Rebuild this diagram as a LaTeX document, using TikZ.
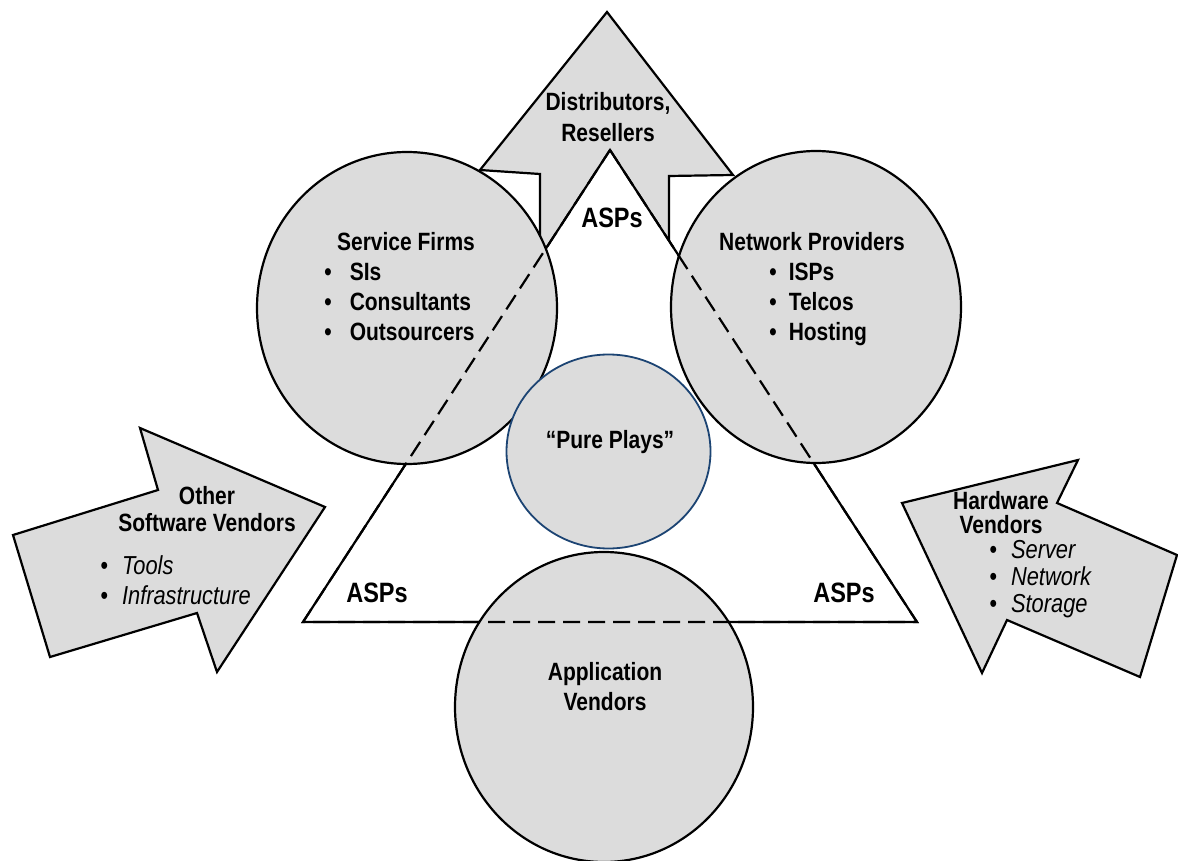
\documentclass[tikz,border=0pt]{standalone}
\usepackage{fontspec}
\setmainfont{Liberation Sans}[FakeStretch=0.84]
\usepackage{xcolor}
\usepackage{tikz}
\usetikzlibrary{positioning,calc}
\definecolor{fillgray}{RGB}{220,220,220}
\definecolor{navyline}{RGB}{28,68,115}

\tikzset{
  grayshape/.style={draw=black, line width=1.1pt, fill=fillgray, line join=miter},
  whiteshape/.style={draw=black, line width=1.1pt, fill=white},
  hidden edge/.style={draw=black, line width=1.1pt, dash pattern=on 8.5pt off 4pt},
  hdr/.style={font=\bfseries\fontsize{12.5}{#1}\selectfont, align=center, inner sep=0pt},
  hdr/.default=15,
  bulletlist/.style={font=\bfseries\fontsize{12.5}{15}\selectfont, align=left, inner sep=0pt, anchor=north west},
  itlist/.style={font=\itshape\fontsize{13}{#1}\selectfont, align=left, inner sep=0pt, anchor=north west},
  asplabel/.style={font=\bfseries\fontsize{14}{17}\selectfont, inner sep=0pt}
}

\begin{document}
\begin{tikzpicture}[x=0.5pt, y=-0.5pt]
    \useasboundingbox (0,0) rectangle (1178,861);

    % arrows pointing in
    \draw[grayshape] (607,12) -- (733,175) -- (669,176) -- (669,285) -- (540,285) -- (540,174) -- (480,170) -- cycle;
    \draw[grayshape] (50,657) -- (13,535) -- (158,490) -- (140,428) -- (325,507) -- (217,672) -- (197,613) -- cycle;
    \draw[grayshape] (902,503) -- (1078,460) -- (1057,503) -- (1177,555) -- (1140,677) -- (1007,620) -- (982,673) -- cycle;

    % ASP triangle
    \draw[whiteshape] (610,150) -- (917,622) -- (303,622) -- cycle;

    % circles
    \draw[grayshape] (407,308) ellipse [x radius=150, y radius=156];
    \draw[grayshape] (816,307) ellipse [x radius=145, y radius=156];
    \draw[grayshape] (604,707) ellipse [x radius=149, y radius=155];
    \draw[hidden edge] (610,150) -- (917,622) -- (303,622) -- cycle;
    \draw[grayshape, draw=navyline, line width=0.9pt] (608.5,451.5) ellipse [x radius=102, y radius=97];

    % labels
    \node[hdr=15.5] (dist) at (608,117) {Distributors,\\Resellers};
    \node[asplabel] (asp-top) at (612,218) {ASPs};
    \node[asplabel] (asp-left) at (377,593) {ASPs};
    \node[asplabel] (asp-right) at (844,593) {ASPs};

    \node[hdr] (svc) at (406,242) {Service Firms};
    \node[bulletlist] (svc-list) at (324,263) {\textbullet\hspace{9pt}SIs\\\textbullet\hspace{9pt}Consultants\\\textbullet\hspace{9pt}Outsourcers};

    \node[hdr] (net) at (812,242) {Network Providers};
    \node[bulletlist] (net-list) at (769,263) {\textbullet\hspace{6pt}ISPs\\\textbullet\hspace{6pt}Telcos\\\textbullet\hspace{6pt}Hosting};

    \node[hdr] (pure) at (610,442) {“Pure Plays”};
    \node[hdr] (app) at (605,687) {Application\\Vendors};

    \node[hdr=13.5] (osv) at (207,509) {Other\\Software Vendors};
    \node[itlist=15] (osv-list) at (100,555) {\textbullet\hspace{7pt}Tools\\\textbullet\hspace{7pt}Infrastructure};

    \node[hdr=12] (hw) at (1001,513) {Hardware\\Vendors};
    \node[itlist=13.5] (hw-list) at (989,540) {\textbullet\hspace{7pt}Server\\\textbullet\hspace{7pt}Network\\\textbullet\hspace{7pt}Storage};
\end{tikzpicture}
\end{document}
